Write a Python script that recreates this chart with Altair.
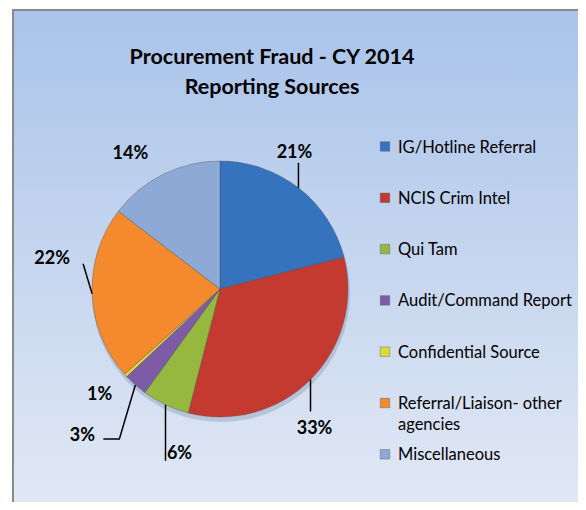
import math
import altair as alt
import pandas as pd

# ---------------- data ----------------
categories = ["IG/Hotline Referral", "NCIS Crim Intel", "Qui Tam", "Audit/Command Report",
              "Confidential Source", "Referral/Liaison- other agencies", "Miscellaneous"]
shares = [21, 33, 6, 3, 0.4, 22, 14.6]
pct_labels = ["21%", "33%", "6%", "3%", "1%", "22%", "14%"]
legend_labels = ["IG/Hotline Referral", "NCIS Crim Intel", "Qui Tam", "Audit/Command Report",
                 "Confidential Source", "Referral/Liaison- other\nagencies", "Miscellaneous"]
title_lines = ["Procurement Fraud - CY 2014", "Reporting Sources"]

# ---------------- style / layout ----------------
colors = ["#3573BE", "#C43A31", "#97B83F", "#7D5BA6", "#D8DC3A", "#F48A2D", "#8EA9D6"]
FONT = "Lato"
W, H = 570, 494
CX, CY, R = 212, 280, 128
# label offsets relative to the slice's mid-angle point on the rim
label_off = {0: (-4, -35), 1: (4, 49), 2: (14, 49), 3: (-53, 51), 4: (-26, 20), 5: (-40, -35), 6: (-33, -20)}
leader_path = {0: [(0, 0), (0, -25)], 1: [(0, 0), (0, 32)], 2: [(0, 0), (0, 56)],
               3: [(0, 0), (-16, 54), (-32, 54)], 5: [(0, 0), (-9, -30)]}
LEG_X, LEG_Y0, LEG_DY = 377, 137.5, 51.3

# ---------------- tables ----------------
pie_df = pd.DataFrame({"category": categories, "share": shares, "idx": range(len(categories))})

total = sum(shares)
rows, lines = [], []
cum = 0.0
for i, (c, s, lab) in enumerate(zip(categories, shares, pct_labels)):
    mid = (cum + s / 2) / total * 2 * math.pi
    cum += s
    ex, ey = CX + R * math.sin(mid), CY - R * math.cos(mid)
    ox, oy = label_off[i]
    rows.append({"category": c, "label": lab, "lx": ex + ox, "ly": ey + oy})
    for k, (dx, dy) in enumerate(leader_path.get(i, [])):
        lines.append({"category": c, "seq": k, "x": ex + dx, "y": ey + dy})
lab_df = pd.DataFrame(rows)
line_df = pd.DataFrame(lines)

leg_df = pd.DataFrame({"category": categories, "text": legend_labels,
                       "ly": [LEG_Y0 + i * LEG_DY for i in range(len(categories))]})
title_df = pd.DataFrame({"t": title_lines, "ty": [49, 79]})
one = pd.DataFrame({"a": [0]})

color_scale = alt.Scale(domain=categories, range=colors)

white = alt.Chart(one).mark_rect(fill="#FFFFFF").encode(
    x=alt.value(0), x2=alt.value(4.5), y=alt.value(0), y2=alt.value(H))

bg = alt.Chart(one).mark_rect(
    fill=alt.Gradient(gradient="linear", x1=0, x2=0, y1=0, y2=1,
                      stops=[alt.GradientStop(color="#A9C3EA", offset=0),
                             alt.GradientStop(color="#E1E8F4", offset=1)])
).encode(x=alt.value(4.5), x2=alt.value(W), y=alt.value(0), y2=alt.value(H))

frame_l = alt.Chart(one).mark_rule(color="#8A8A8A", strokeWidth=2).encode(
    x=alt.value(5), y=alt.value(0), y2=alt.value(H))
frame_t = alt.Chart(one).mark_rule(color="#8A8A8A", strokeWidth=2).encode(
    x=alt.value(4), x2=alt.value(W), y=alt.value(1))

title = alt.Chart(title_df).mark_text(font=FONT, fontSize=21.5, fontWeight="bold", color="#000000",
                                      align="center", baseline="middle").encode(
    x=alt.value(264), y=alt.Y("ty:Q", scale=None, axis=None), text="t:N")

shadow = alt.Chart(one).mark_arc(radius=R + 1, theta=0, theta2=2 * math.pi, color="#6E7F99",
                                 opacity=0.3).encode(x=alt.value(CX + 1), y=alt.value(CY + 4))

pie = alt.Chart(pie_df).mark_arc(radius=R, stroke="#4A4A4A", strokeWidth=0.6, strokeOpacity=0.6).encode(
    theta=alt.Theta("share:Q", stack=True),
    color=alt.Color("category:N", scale=color_scale, legend=None),
    order=alt.Order("idx:Q"),
    x=alt.value(CX), y=alt.value(CY))

leaders = alt.Chart(line_df).mark_line(color="#000000", strokeWidth=1.5).encode(
    x=alt.X("x:Q", scale=None, axis=None), y=alt.Y("y:Q", scale=None, axis=None),
    detail="category:N", order="seq:Q")

labels = alt.Chart(lab_df).mark_text(font=FONT, fontSize=18, fontWeight="bold", color="#000000",
                                     align="center", baseline="middle").encode(
    x=alt.X("lx:Q", scale=None, axis=None), y=alt.Y("ly:Q", scale=None, axis=None), text="label:N")

leg_sq = alt.Chart(leg_df).mark_square(size=90, opacity=1, stroke="#555555", strokeWidth=0.4).encode(
    x=alt.value(LEG_X), y=alt.Y("ly:Q", scale=None, axis=None),
    color=alt.Color("category:N", scale=color_scale, legend=None))

leg_txt = alt.Chart(leg_df).mark_text(font=FONT, fontSize=16.5, color="#000000", align="left",
                                      baseline="alphabetic", dy=6, lineBreak="\n", lineHeight=21).encode(
    x=alt.value(LEG_X + 13), y=alt.Y("ly:Q", scale=None, axis=None), text="text:N")

chart = alt.layer(white, bg, frame_l, frame_t, title, shadow, pie, leaders, labels, leg_sq, leg_txt).properties(
    width=W, height=H, padding=0,
    autosize=alt.AutoSizeParams(type="fit", contains="padding"),
    background="#FFFFFF"
).configure_view(stroke=None)

chart.save("out.html", embed_options={"renderer": "svg", "actions": False})
